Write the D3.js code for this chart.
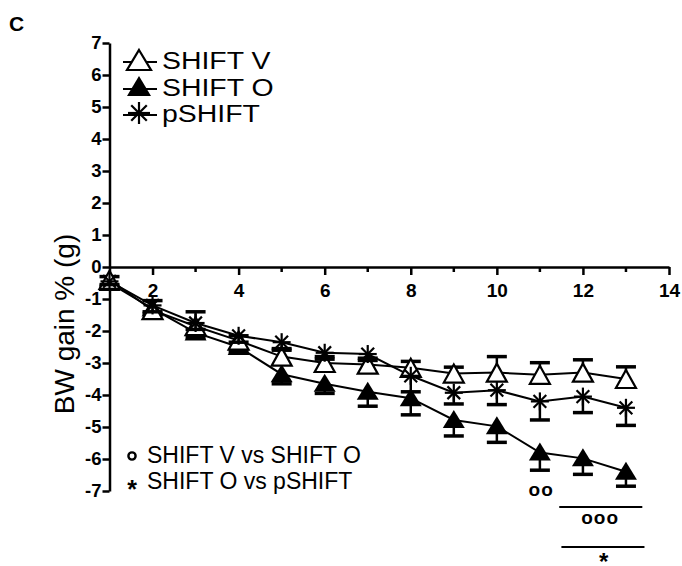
<!DOCTYPE html>
<html>
<head>
<meta charset="utf-8">
<script src="https://cdn.jsdelivr.net/npm/d3@7"></script>
<style>
  body { margin: 0; background: #fff; }
  svg { display: block; font-family: Arial, "Liberation Sans", sans-serif; }
</style>
</head>
<body>
<div id="chart"></div>
<script>
// weeks on the x axis
var weeks = [1, 2, 3, 4, 5, 6, 7, 8, 9, 10, 11, 12, 13];

// mean BW gain % per group, and the SEM bars (V goes up, O and pSHIFT go down)
var shiftV    = [-0.4, -1.35, -1.85, -2.3, -2.8, -3.0, -3.05, -3.15, -3.33, -3.3, -3.37, -3.3, -3.5];
var shiftVErr = [0.1, 0.3, 0.45, 0.15, 0.2, 0.2, 0.2, 0.2, 0.2, 0.5, 0.38, 0.4, 0.38];
var shiftO    = [-0.5, -1.3, -2.05, -2.5, -3.35, -3.65, -3.9, -4.1, -4.78, -4.98, -5.8, -5.98, -6.4];
var shiftOErr = [0.1, 0.15, 0.15, 0.15, 0.3, 0.3, 0.45, 0.52, 0.5, 0.5, 0.55, 0.5, 0.45];
var pShift    = [-0.45, -1.2, -1.75, -2.15, -2.35, -2.68, -2.72, -3.4, -3.93, -3.85, -4.2, -4.05, -4.4];
var pShiftErr = [0.1, 0.2, 0.2, 0.2, 0.2, 0.2, 0.2, 0.5, 0.35, 0.45, 0.58, 0.5, 0.55];

// tick values
var yTicks = [-7, -6, -5, -4, -3, -2, -1, 0, 1, 2, 3, 4, 5, 6, 7];
var xMajor = [2, 4, 6, 8, 10, 12, 14];
var xMinor = [3, 5, 7, 9, 11, 13];

var legendNames = ['SHIFT V', 'SHIFT O', 'pSHIFT'];
var compNames = ['SHIFT V vs SHIFT O', 'SHIFT O vs pSHIFT'];

var svgWidth = 682, svgHeight = 566;
var svg = d3.select("#chart").append("svg").attr("width", svgWidth).attr("height", svgHeight);

var x = d3.scaleLinear().domain([1, 14]).range([109.5, 669]);
var y = d3.scaleLinear().domain([-7, 7]).range([491, 43]);

// panel letter
svg.append("text").attr("x", 9).attr("y", 31)
  .attr("font-size", 21).attr("font-weight", "bold").text("C");

// y axis
var yAxis = d3.axisLeft(y).tickValues(yTicks).tickSize(7).tickSizeOuter(0).tickPadding(1)
  .tickFormat(d => String(d));
var gy = svg.append("g").attr("transform", `translate(${x(1)},0)`).call(yAxis);
gy.select(".domain").attr("stroke-width", 2.5);
gy.selectAll(".tick line").attr("stroke-width", 2.5);
gy.selectAll(".tick text").attr("font-size", 18.5).attr("font-weight", "bold")
  .attr("font-family", "Arial, 'Liberation Sans', sans-serif").attr("fill", "#000");

// x axis at y = 0
var xAxis = d3.axisBottom(x).tickValues(xMajor).tickSize(8).tickSizeOuter(0).tickPadding(9)
  .tickFormat(d => String(d));
var gx = svg.append("g").attr("transform", `translate(0,${y(0)})`).call(xAxis);
gx.select(".domain").attr("stroke-width", 2.5);
gx.selectAll(".tick line").attr("stroke-width", 2.5);
gx.selectAll(".tick text").attr("font-size", 19).attr("font-weight", "bold")
  .attr("font-family", "Arial, 'Liberation Sans', sans-serif").attr("fill", "#000");
gx.selectAll(".minor").data(xMinor).enter().append("line")
  .attr("x1", d => x(d)).attr("x2", d => x(d))
  .attr("y1", 0).attr("y2", 5)
  .attr("stroke", "#000").attr("stroke-width", 2.5);

// y axis label
svg.append("text")
  .attr("transform", `translate(74,${(y(7) + y(-7)) / 2 + 57}) rotate(-90)`)
  .attr("text-anchor", "middle").attr("font-size", 28).text("BW gain % (g)");

// symbols
var triOpen = "M0,-9L10,9L-10,9Z";
var triFill = "M0,-10L11,8L-11,8Z";
function drawStar(g, r) {
  [0, 45, 90, 135].forEach(function(a) {
    g.append("line").attr("x1", -r).attr("x2", r).attr("y1", 0).attr("y2", 0)
      .attr("transform", `rotate(${a})`)
      .attr("stroke", "#000").attr("stroke-width", 2.2);
  });
}

var series = [
  {name: 'SHIFT O', vals: shiftO, err: shiftOErr, dir: -1, type: 'fill'},
  {name: 'SHIFT V', vals: shiftV, err: shiftVErr, dir: 1, type: 'open'},
  {name: 'pSHIFT', vals: pShift, err: pShiftErr, dir: -1, type: 'star'}
];

var line = d3.line().x(d => x(d.w)).y(d => y(d.v));
var plot = svg.append("g");

series.forEach(function(s) {
  var pts = weeks.map((w, i) => ({w: w, v: s.vals[i], e: s.err[i]}));
  plot.append("path").datum(pts).attr("d", line)
    .attr("fill", "none").attr("stroke", "#000").attr("stroke-width", 2);
});

series.forEach(function(s) {
  var pts = weeks.map((w, i) => ({w: w, v: s.vals[i], e: s.err[i]}));
  var g = plot.append("g");
  // error bars
  g.selectAll(".eb").data(pts).enter().append("line")
    .attr("x1", d => x(d.w)).attr("x2", d => x(d.w))
    .attr("y1", d => y(d.v)).attr("y2", d => y(d.v + s.dir * d.e))
    .attr("stroke", "#000").attr("stroke-width", 2.5);
  g.selectAll(".cap").data(pts).enter().append("line")
    .attr("x1", d => x(d.w) - 10).attr("x2", d => x(d.w) + 10)
    .attr("y1", d => y(d.v + s.dir * d.e)).attr("y2", d => y(d.v + s.dir * d.e))
    .attr("stroke", "#000").attr("stroke-width", 3.5);
  // markers
  var m = g.selectAll(".m").data(pts).enter().append("g")
    .attr("transform", d => `translate(${x(d.w)},${y(d.v)})`);
  if (s.type === 'fill') {
    m.append("path").attr("d", triFill).attr("fill", "#000");
  } else if (s.type === 'open') {
    m.append("path").attr("d", triOpen).attr("fill", "#fff")
      .attr("stroke", "#000").attr("stroke-width", 2.2);
  } else {
    m.each(function() { drawStar(d3.select(this), 9); });
  }
});

// top legend
var legY = [60, 87, 113];
legendNames.forEach(function(n, i) {
  var g = svg.append("g").attr("transform", `translate(139,${legY[i]})`);
  g.append("line").attr("x1", -16).attr("x2", 18).attr("y1", 2).attr("y2", 2)
    .attr("stroke", "#000").attr("stroke-width", 2);
  if (i === 0) {
    g.append("path").attr("d", "M0,-10L12,10L-12,10Z").attr("fill", "#fff")
      .attr("stroke", "#000").attr("stroke-width", 2.2);
  } else if (i === 1) {
    g.append("path").attr("d", "M0,-11L12,9L-12,9Z").attr("fill", "#000");
  } else {
    drawStar(g, 11);
  }
  // text is a bit wider than plain Arial in the reference
  svg.append("text").attr("transform", `translate(162,${legY[i] + 9}) scale(1.16,1)`)
    .attr("font-size", 24.5).text(n);
});

// comparison legend
svg.append("circle").attr("cx", 132).attr("cy", 456).attr("r", 3.6)
  .attr("fill", "none").attr("stroke", "#000").attr("stroke-width", 2.4);
svg.append("text").attr("x", 132).attr("y", 498).attr("text-anchor", "middle")
  .attr("font-size", 25).attr("font-weight", "bold").text("*");
compNames.forEach(function(n, i) {
  svg.append("text").attr("x", 147).attr("y", 463 + i * 26)
    .attr("font-size", 23).text(n);
});

// significance marks
svg.append("text").attr("x", x(11.03)).attr("y", 496).attr("text-anchor", "middle")
  .attr("font-size", 19).attr("font-weight", "bold").attr("letter-spacing", 1).text("oo");
svg.append("line").attr("x1", x(11.45)).attr("x2", x(13.38)).attr("y1", 507).attr("y2", 507)
  .attr("stroke", "#000").attr("stroke-width", 2);
svg.append("text").attr("x", x(12.4)).attr("y", 524).attr("text-anchor", "middle")
  .attr("font-size", 19).attr("font-weight", "bold").attr("letter-spacing", 1).text("ooo");
svg.append("line").attr("x1", x(11.5)).attr("x2", x(13.43)).attr("y1", 547).attr("y2", 547)
  .attr("stroke", "#000").attr("stroke-width", 2);
svg.append("text").attr("x", x(12.48)).attr("y", 570).attr("text-anchor", "middle")
  .attr("font-size", 24).attr("font-weight", "bold").text("*");
</script>
</body>
</html>
